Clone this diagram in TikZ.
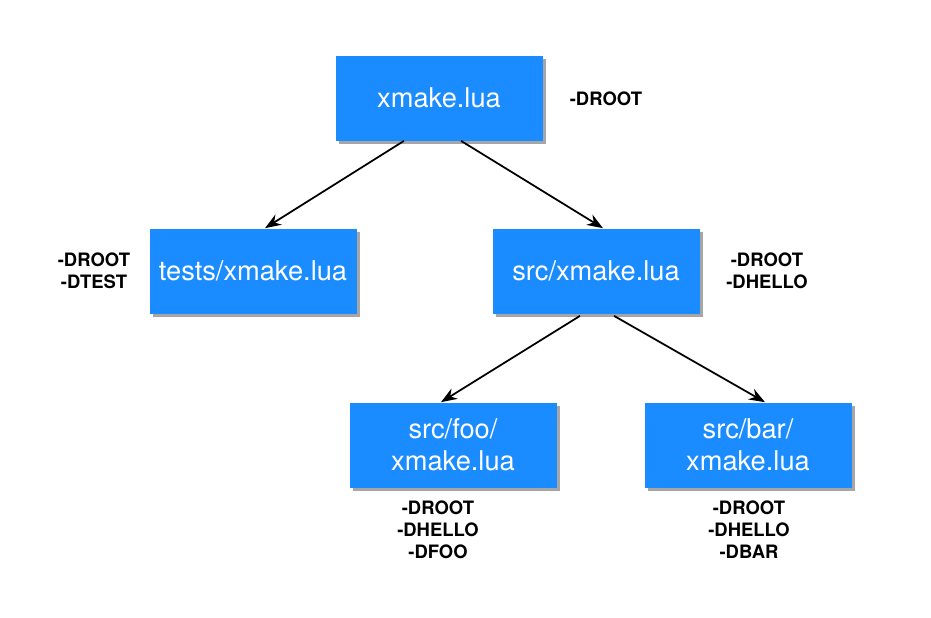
\documentclass[tikz,border=0pt]{standalone}
\usepackage{fontspec}
\setmainfont{TeX Gyre Heros}
\usepackage{tikz}
\usetikzlibrary{shadows,arrows.meta}
\definecolor{boxblue}{HTML}{1A8CFF}

\begin{document}
\begin{tikzpicture}[scale=1.0,
  filebox/.style={fill=boxblue, text=white, minimum width=4.14cm, minimum height=1.7cm,
    align=center, font=\fontsize{15.5}{18}\selectfont,
    drop shadow={shadow xshift=0.07cm, shadow yshift=-0.07cm, opacity=0.35, fill=black}},
  defs/.style={align=center, font=\fontsize{10.5}{12.5}\selectfont\bfseries},
  link/.style={-{Stealth[length=0.32cm,width=0.24cm]}, line width=1pt}]
\useasboundingbox (0,0) rectangle (18.62,-12.34);
\node[filebox] (root) at (8.78,-1.96) {xmake.lua};
\node[filebox] (tests) at (5.06,-5.42) {tests/xmake.lua};
\node[filebox] (src) at (11.92,-5.42) {src/xmake.lua};
\node[filebox] (foo) at (9.06,-8.9) {src/foo/\\xmake.lua};
\node[filebox] (bar) at (14.96,-8.9) {src/bar/\\xmake.lua};
% defines per file
\node[defs] (rootdefs) at (12.12,-1.98) {-DROOT};
\node[defs] (testsdefs) at (1.88,-5.42) {-DROOT\\-DTEST};
\node[defs] (srcdefs) at (15.34,-5.42) {-DROOT\\-DHELLO};
\node[defs] (foodefs) at (8.76,-10.6) {-DROOT\\-DHELLO\\-DFOO};
\node[defs] (bardefs) at (14.98,-10.6) {-DROOT\\-DHELLO\\-DBAR};
\draw[link] ([xshift=-0.7cm]root.south) -- ([xshift=0.24cm]tests.north);
\draw[link] ([xshift=0.44cm]root.south) -- ([xshift=0.14cm]src.north);
\draw[link] ([xshift=-0.32cm,yshift=-0.04cm]src.south) -- ([xshift=-0.24cm]foo.north);
\draw[link] ([xshift=0.36cm,yshift=-0.04cm]src.south) -- ([xshift=0.34cm]bar.north);
\end{tikzpicture}
\end{document}
